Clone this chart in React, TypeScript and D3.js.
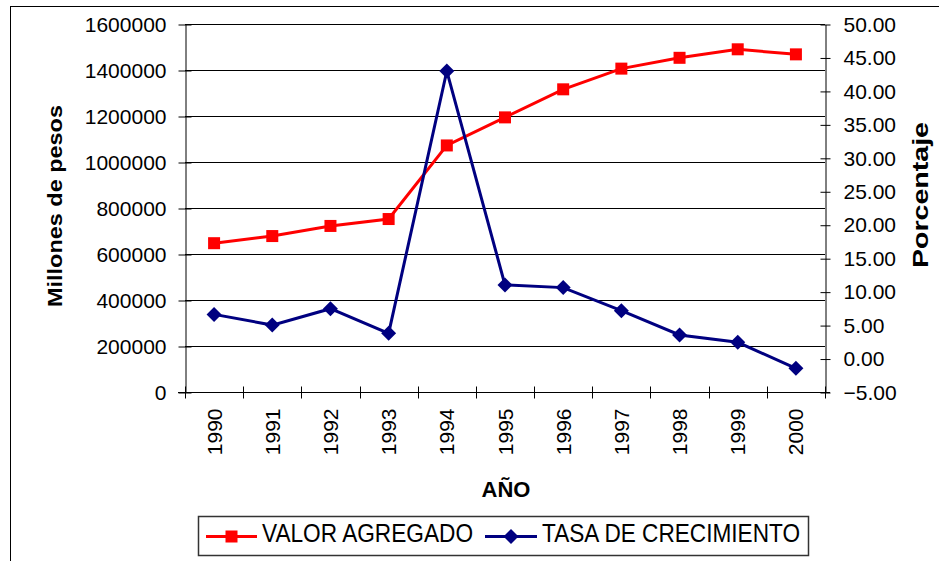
import * as d3 from 'd3';
import React, { useRef, useEffect } from 'react';

const years = ['1990', '1991', '1992', '1993', '1994', '1995', '1996', '1997', '1998', '1999', '2000'];
const valorAgregado = [647000, 678000, 722000, 752000, 1072000, 1194000, 1316000, 1406000, 1453000, 1490000, 1468000];
const tasaCrecimiento = [6.6, 5.0, 7.45, 3.77, 42.97, 11.0, 10.6, 7.15, 3.52, 2.43, -1.46];
const leftTicks = [0, 200000, 400000, 600000, 800000, 1000000, 1200000, 1400000, 1600000];
const rightTicks = [-5, 0, 5, 10, 15, 20, 25, 30, 35, 40, 45, 50];

const FONT = '"Liberation Sans", Arial, sans-serif';

const App = () => {
    const svgRef = useRef<SVGSVGElement>(null);
    const width = 939;
    const height = 561;

    useEffect(() => {
        draw();
    }, []);

    const draw = () => {
        const svg = d3.select(svgRef.current);
        svg.selectAll('*').remove();

        const plot = { left: 185, right: 825, top: 24, bottom: 392 };

        const xScale = d3.scaleBand().domain(years).range([plot.left, plot.right]).padding(0);
        const yLeft = d3.scaleLinear().domain([0, 1600000]).range([plot.bottom, plot.top]);
        const yRight = d3.scaleLinear().domain([-5, 50]).range([plot.bottom, plot.top]);
        const cx = (d: string) => (xScale(d) as number) + xScale.bandwidth() / 2;

        // outer chart border
        svg.append('rect')
            .attr('x', 10.5).attr('y', 6.5)
            .attr('width', 960).attr('height', 600)
            .attr('fill', 'white').attr('stroke', 'black').attr('stroke-width', 1);

        // gridlines
        svg.append('g')
            .selectAll('line')
            .data(leftTicks.filter((d) => d > 0))
            .enter()
            .append('line')
            .attr('x1', plot.left).attr('x2', plot.right)
            .attr('y1', (d) => Math.round(yLeft(d)) + 0.5)
            .attr('y2', (d) => Math.round(yLeft(d)) + 0.5)
            .attr('stroke', 'black').attr('stroke-width', 1);

        // left axis
        const leftAxis = d3.axisLeft(yLeft).tickValues(leftTicks).tickFormat(d3.format('d'))
            .tickSizeInner(7).tickSizeOuter(0).tickPadding(12);
        const gl = svg.append('g').attr('transform', `translate(${plot.left + 0.5},0.5)`).call(leftAxis);
        gl.selectAll('.tick line').attr('x2', -7).attr('x1', 6);

        // right axis
        const rightAxis = d3.axisRight(yRight).tickValues(rightTicks).tickFormat(d3.format('.2f'))
            .tickSizeInner(5).tickSizeOuter(0).tickPadding(13);
        const gr = svg.append('g').attr('transform', `translate(${plot.right + 0.5},0.5)`).call(rightAxis);
        gr.selectAll('.tick line').attr('x1', -5);

        // bottom axis with ticks at category boundaries
        const bottomAxis = d3.axisBottom(xScale).tickSize(0).tickPadding(0);
        const gb = svg.append('g').attr('transform', `translate(0,${plot.bottom + 0.5})`).call(bottomAxis);
        gb.select('.domain').attr('d', `M${plot.left - 7},0H${plot.right + 5}`);
        gb.selectAll('.tick text')
            .attr('transform', 'rotate(-90)')
            .attr('x', -16)
            .attr('y', 0)
            .attr('dy', '0.36em')
            .attr('text-anchor', 'end');
        gb.selectAll('.edge')
            .data(d3.range(years.length + 1))
            .enter()
            .append('line')
            .attr('class', 'edge')
            .attr('x1', (i) => Math.round(plot.left + i * xScale.step()) + 0.5)
            .attr('x2', (i) => Math.round(plot.left + i * xScale.step()) + 0.5)
            .attr('y1', -6).attr('y2', 6)
            .attr('stroke', 'black');

        [gl, gr, gb].forEach((g) => {
            g.selectAll('text').attr('font-family', FONT).attr('font-size', 21).attr('fill', 'black');
            g.selectAll('.domain').attr('stroke', 'black');
            g.selectAll('line').attr('stroke', 'black');
        });

        // valor agregado line
        const lineLeft = d3.line<number>()
            .x((_, i) => cx(years[i]))
            .y((d) => yLeft(d));
        svg.append('path')
            .datum(valorAgregado)
            .attr('d', lineLeft)
            .attr('fill', 'none').attr('stroke', '#ff0000').attr('stroke-width', 3);
        svg.selectAll('.sq')
            .data(valorAgregado)
            .enter()
            .append('rect')
            .attr('class', 'sq')
            .attr('x', (d, i) => cx(years[i]) - 6)
            .attr('y', (d) => yLeft(d) - 6)
            .attr('width', 12).attr('height', 12)
            .attr('fill', '#ff0000');

        // tasa de crecimiento line
        const lineRight = d3.line<number>()
            .x((_, i) => cx(years[i]))
            .y((d) => yRight(d));
        svg.append('path')
            .datum(tasaCrecimiento)
            .attr('d', lineRight)
            .attr('fill', 'none').attr('stroke', '#000080').attr('stroke-width', 3);
        const diamond = 'M0,-7.5L7.5,0L0,7.5L-7.5,0Z';
        svg.selectAll('.dm')
            .data(tasaCrecimiento)
            .enter()
            .append('path')
            .attr('class', 'dm')
            .attr('transform', (d, i) => `translate(${cx(years[i])},${yRight(d)})`)
            .attr('d', diamond)
            .attr('fill', '#000080');

        // axis titles
        svg.append('text')
            .attr('transform', 'translate(62,206) rotate(-90)')
            .attr('text-anchor', 'middle')
            .attr('font-family', FONT).attr('font-weight', 'bold').attr('font-size', 21)
            .attr('textLength', 202).attr('lengthAdjust', 'spacingAndGlyphs')
            .text('Millones de pesos');
        svg.append('text')
            .attr('transform', 'translate(928,195) rotate(-90)')
            .attr('text-anchor', 'middle')
            .attr('font-family', FONT).attr('font-weight', 'bold').attr('font-size', 22)
            .attr('textLength', 146).attr('lengthAdjust', 'spacingAndGlyphs')
            .text('Porcentaje');
        svg.append('text')
            .attr('x', 506).attr('y', 497)
            .attr('text-anchor', 'middle')
            .attr('font-family', FONT).attr('font-weight', 'bold').attr('font-size', 22)
            .text('AÑO');

        // legend
        const lg = svg.append('g');
        lg.append('rect')
            .attr('x', 198.5).attr('y', 516.5).attr('width', 610).attr('height', 39)
            .attr('fill', 'white').attr('stroke', '#333').attr('stroke-width', 1.5);
        lg.append('line')
            .attr('x1', 206).attr('x2', 257).attr('y1', 536.5).attr('y2', 536.5)
            .attr('stroke', '#ff0000').attr('stroke-width', 3);
        lg.append('rect')
            .attr('x', 225.5).attr('y', 530.5).attr('width', 12).attr('height', 12)
            .attr('fill', '#ff0000');
        lg.append('text')
            .attr('x', 262).attr('y', 542)
            .attr('font-family', FONT).attr('font-size', 25)
            .attr('textLength', 211).attr('lengthAdjust', 'spacingAndGlyphs')
            .text('VALOR AGREGADO');
        lg.append('line')
            .attr('x1', 485).attr('x2', 537).attr('y1', 536.5).attr('y2', 536.5)
            .attr('stroke', '#000080').attr('stroke-width', 3);
        lg.append('path')
            .attr('transform', 'translate(511,536.5)')
            .attr('d', diamond)
            .attr('fill', '#000080');
        lg.append('text')
            .attr('x', 542).attr('y', 542)
            .attr('font-family', FONT).attr('font-size', 25)
            .attr('textLength', 258).attr('lengthAdjust', 'spacingAndGlyphs')
            .text('TASA DE CRECIMIENTO');
    };

    return (
        <svg
            ref={svgRef}
            width={width}
            height={height}
            style={{ position: 'absolute', left: 0, top: 0, background: 'white' }}
        ></svg>
    );
};

export default App;
